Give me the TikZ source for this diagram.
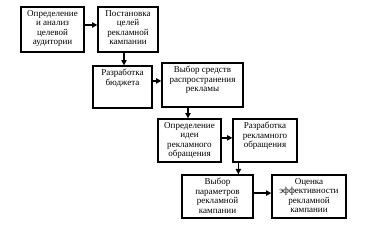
\documentclass[tikz,border=0pt]{standalone}
\usepackage{fontspec}
\setmainfont{Liberation Serif}
\usepackage{tikz}
\usetikzlibrary{arrows.meta}

\tikzset{
	box/.style={draw, line width=1pt, inner sep=0pt},
	txt/.style={below, align=center, inner sep=2.8pt, font=\fontsize{6.8}{7.1}\selectfont},
	arr/.style={-{Triangle[length=4pt,width=4pt]}, line width=1pt}
}

\begin{document}
\begin{tikzpicture}
		\useasboundingbox (0,0) rectangle (9.896,5.98);
		
		% first row
		\node[box, minimum width=1.667cm, minimum height=1.19cm] (b1) at (1.389,5.199) {};
		\node[txt] at (b1.north) {Определение\\и анализ\\целевой\\аудитории};
		\node[box, minimum width=1.588cm, minimum height=1.19cm] (b2) at (3.387,5.199) {};
		\node[txt] at (b2.north) {Постановка\\целей\\рекламной\\кампании};
		
		% second row
		\node[box, minimum width=1.561cm, minimum height=1.111cm] (b3) at (3.241,3.678) {};
		\node[txt] at (b3.north) {Разработка\\бюджета};
		\node[box, minimum width=2.143cm, minimum height=1.164cm] (b4) at (5.358,3.731) {};
		\node[txt] at (b4.north) {Выбор средств\\распространения\\рекламы};
		
		% third row
		\node[box, minimum width=1.667cm, minimum height=1.138cm] (b5) at (5.014,2.262) {};
		\node[txt] at (b5.north) {Определение\\идеи\\рекламного\\обращения};
		\node[box, minimum width=1.693cm, minimum height=1.138cm] (b6) at (7.012,2.262) {};
		\node[txt] at (b6.north) {Разработка\\рекламного\\обращения};
		
		% fourth row
		\node[box, minimum width=1.879cm, minimum height=1.138cm] (b7) at (5.755,0.781) {};
		\node[txt] at (b7.north) {Выбор\\параметров\\рекламной\\кампании};
		\node[box, minimum width=1.958cm, minimum height=1.138cm] (b8) at (8.176,0.781) {};
		\node[txt] at (b8.north) {Оценка\\эффективности\\рекламной\\кампании};
		
		% arrows
		\draw[arr] ([yshift=0.12cm]b1.east) to ([yshift=0.12cm]b2.west);
		\draw[arr] ([xshift=0.04cm]b3.north |- b2.south) to ([xshift=0.04cm]b3.north);
		\draw[arr] ([yshift=0.16cm]b3.east) to ([yshift=0.16cm]b3.east -| b4.west);
		\draw[arr] ([xshift=-0.04cm]b5.north |- b4.south) to ([xshift=-0.04cm]b5.north);
		\draw[arr] ([yshift=0.07cm]b5.east) to ([yshift=0.07cm]b6.west);
		\draw[arr] ([xshift=0.16cm]b6.south west) to ([xshift=0.16cm]b6.south west |- b7.north);
		\draw[arr] ([yshift=0.09cm]b7.east) to ([yshift=0.09cm]b8.west);
	\end{tikzpicture}
\end{document}
